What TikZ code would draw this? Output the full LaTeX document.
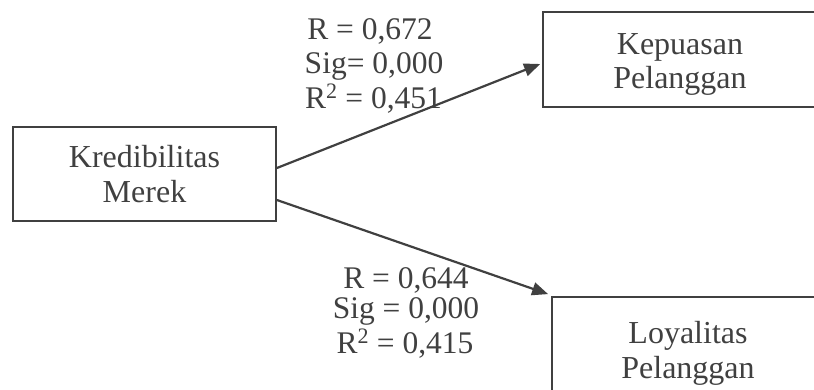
\documentclass[tikz,border=0pt]{standalone}
\usepackage{fontspec}
\setmainfont{Liberation Serif}
\usetikzlibrary{arrows.meta}
\definecolor{ink}{HTML}{404040}
\begin{document}
\begin{tikzpicture}[x=1pt,y=-1pt,
  box/.style={draw=ink, line width=1.8pt, text=ink, font=\fontsize{32}{34.5}\selectfont, align=center, inner sep=0pt},
  lbl/.style={text=ink, font=\fontsize{31.5}{34}\selectfont, inner sep=0pt, anchor=base},
  link/.style={draw=ink, line width=2.2pt, -{Triangle[length=16pt,width=13pt]}}]
\useasboundingbox (0,0) rectangle (814,389);
\node[box, minimum width=263pt, minimum height=94pt] (km) at (144.5,174) {Kredibilitas\\Merek};
\node[box, minimum width=274pt, minimum height=95pt] (kp) at (680,59.5) {\rule{0pt}{31pt}Kepuasan\\Pelanggan};
\node[box, minimum width=272pt, minimum height=102pt] (lp) at (688,348) {\rule{0pt}{33pt}Loyalitas\\Pelanggan};
\draw[link] ([yshift=6pt]km.east) -- ([shift={(-2pt,-4.5pt)}]kp.west);
\draw[link] ([yshift=-26pt]km.east) -- ([shift={(-3pt,2pt)}]lp.north west);
\node[lbl] (a1) at (370,39) {R = 0,672};
\node[lbl] (a2) at (374,73) {Sig= 0,000};
\node[lbl] (a3) at (373.5,108) {R\textsuperscript{2} = 0,451};
\node[lbl] (b1) at (406,288) {R = 0,644};
\node[lbl] (b2) at (406,318) {Sig = 0,000};
\node[lbl] (b3) at (405,353) {R\textsuperscript{2} = 0,415};
\end{tikzpicture}
\end{document}
